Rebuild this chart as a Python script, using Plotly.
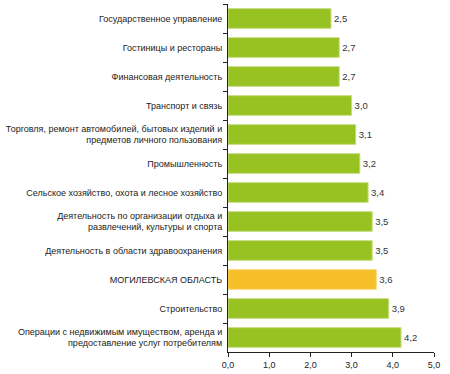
import plotly.graph_objects as go

categories = [
    "Государственное управление",
    "Гостиницы и рестораны",
    "Финансовая деятельность",
    "Транспорт и связь",
    "Торговля, ремонт автомобилей, бытовых изделий и<br>предметов личного пользования",
    "Промышленность",
    "Сельское хозяйство, охота и лесное хозяйство",
    "Деятельность по организации отдыха и<br>развлечений, культуры и спорта",
    "Деятельность в области здравоохранения",
    "МОГИЛЕВСКАЯ ОБЛАСТЬ",
    "Строительство",
    "Операции с недвижимым имуществом, аренда и<br>предоставление услуг потребителям",
]
values = [2.5, 2.7, 2.7, 3.0, 3.1, 3.2, 3.4, 3.5, 3.5, 3.6, 3.9, 4.2]
highlight = "МОГИЛЕВСКАЯ ОБЛАСТЬ"
x_ticks = [0, 1, 2, 3, 4, 5]

green = "#98C222"
yellow = "#F6BF2A"
colors = [yellow if c == highlight else green for c in categories]
line_colors = ["#F9D97A" if c == highlight else "#C5DD80" for c in categories]
labels = [f"{v:.1f}".replace(".", ",") for v in values]

fig = go.Figure(go.Bar(
    x=values, y=categories, orientation="h",
    marker=dict(color=colors, line=dict(color=line_colors, width=1)),
    text=labels, textposition="outside", cliponaxis=False,
    textfont=dict(family="Liberation Sans, Arial", size=9.5, color="#333333"),
    width=0.68,
))

fig.update_layout(
    width=450, height=374,
    margin=dict(l=228, r=16, t=4, b=22),
    paper_bgcolor="white", plot_bgcolor="white",
    separators=", ",
    showlegend=False,
    font=dict(family="Liberation Sans, Arial", size=9, color="#222222"),
    xaxis=dict(
        range=[0, 5], tickvals=x_ticks, tickformat=".1f",
        showgrid=False, zeroline=False, automargin=False,
        showline=True, linecolor="#222222", linewidth=1,
        ticks="outside", ticklen=4, tickcolor="#222222",
        tickfont=dict(size=9, color="#222222"),
    ),
    yaxis=dict(
        type="category", autorange="reversed", automargin=False,
        showgrid=False, zeroline=False,
        showline=True, linecolor="#222222", linewidth=1,
        ticks="outside", ticklen=4, tickcolor="#222222",
        tickson="boundaries", ticklabelstandoff=3,
        tickfont=dict(size=9, color="#222222"),
    ),
)

fig.write_html("out.html", config={"displayModeBar": False},
               post_script="document.body.style.margin='0';")
